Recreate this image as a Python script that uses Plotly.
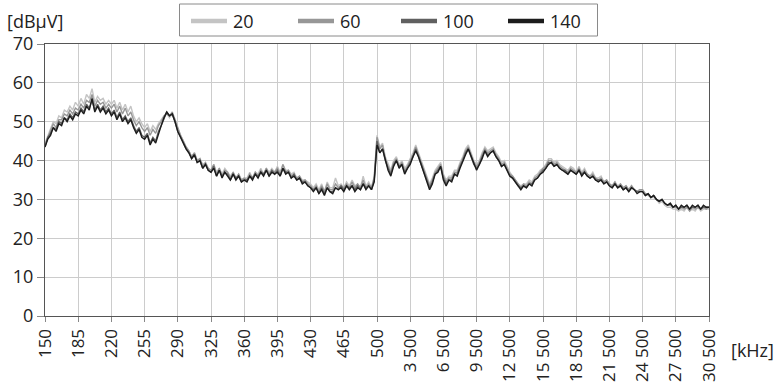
import numpy as np
import plotly.graph_objects as go

# tick labels of the (piecewise) frequency axis, in kHz
tick_labels = ["150", "185", "220", "255", "290", "325", "360", "395", "430", "465", "500",
               "3 500", "6 500", "9 500", "12 500", "15 500", "18 500", "21 500", "24 500",
               "27 500", "30 500"]

series_names = ["20", "60", "100", "140"]
series_colors = ["#c4c4c4", "#979797", "#606060", "#1c1c1c"]

# levels in dBuV, 12 samples per tick interval
s20 = [44.5, 46.5, 48, 50, 49.5, 51.5, 51, 53, 52.5, 54, 53, 55,
       54, 56, 54.5, 57, 56, 58.5, 55, 56.5, 55.5, 56, 54.5, 55.5,
       54.5, 55.5, 53.5, 55, 53, 54.5, 52.5, 54, 51.5, 50, 51, 49.5,
       48.5, 49.5, 47.5, 49, 48, 49.5, 50.5, 51.5, 52, 51, 52, 50.5,
       48, 46.5, 45, 43.5, 42.5, 41, 42, 40, 40.5, 39, 39.5, 38,
       37.5, 39, 37, 38, 36.5, 38, 37, 36, 37, 35.5, 36.5, 35,
       35.5, 35.5, 37, 35.5, 37, 36.5, 38, 36.5, 38, 37, 38, 37,
       38.5, 37, 39, 37.5, 37.5, 36.5, 37, 35.5, 36, 35, 35, 34.5,
       34, 33, 34, 32.5, 34, 32, 34.5, 33, 33, 35.5, 33.5, 34,
       33, 34.5, 33.5, 35, 33.5, 34, 33, 36, 33.5, 34.5, 33, 36,
       46.5, 43.5, 44.5, 41, 39, 37.5, 40, 41, 39, 40, 38, 39,
       40.5, 42, 44, 42, 40, 38, 36.5, 34, 35.5, 37.5, 38.5, 39.5,
       36.5, 35, 36, 36, 37.5, 37.5, 39.5, 41, 43, 44, 42, 40,
       39, 40, 42, 43.5, 42.5, 43, 43.5, 42, 41, 39.5, 40, 38.5,
       37, 36, 35, 34, 33.5, 34, 34, 35, 34.5, 36, 36.5, 37.5,
       38, 39, 40.5, 40.5, 39.5, 40, 39, 38.5, 38, 37.5, 38.5, 38,
       37, 38.5, 37, 38, 36.5, 36, 37, 35.5, 35.5, 36, 34.5, 35,
       34, 33.5, 34.5, 33.5, 34, 33, 33.5, 32.5, 33.5, 32.5, 32, 32.5,
       32, 31.5, 31, 30.5, 30.5, 30, 29, 29.5, 28.5, 28, 28, 27.5,
       27.5, 27, 27.5, 27, 28, 27, 27.5, 27, 28, 27, 27.5, 27.5, 27.5]

s60 = [44, 46, 47.5, 49.5, 48.5, 50.5, 50.5, 52, 51.5, 53, 52, 53.5,
       53, 54.5, 53.5, 55.5, 55, 57, 54, 55.5, 54.5, 55, 53.5, 54.5,
       53.5, 54.5, 52.5, 54, 52, 53.5, 51.5, 52.5, 50.5, 49, 50, 48.5,
       47.5, 48.5, 46.5, 48, 47, 49, 50, 51.5, 52, 51.5, 52.5, 50.5,
       48, 46.5, 45, 43.5, 42.5, 41, 42, 40, 40.5, 38.5, 39.5, 38,
       37.5, 39, 36.5, 38, 36, 37.5, 37, 35.5, 37, 35.5, 36.5, 35,
       35.5, 35, 36.5, 35.5, 37, 36, 37.5, 36.5, 38, 36.5, 37.5, 37,
       38, 36.5, 39, 37, 37.5, 36, 36.5, 35.5, 36, 34.5, 35, 34,
       33.5, 32.5, 33.5, 32, 33.5, 32, 34, 32.5, 32.5, 34, 33, 33.5,
       33, 34, 33, 34.5, 33, 34, 33, 35, 33, 34, 33, 35.5,
       46, 43, 44, 40.5, 38.5, 37, 39.5, 40.5, 38.5, 39.5, 37.5, 38.5,
       40, 41.5, 43.5, 41.5, 40, 37.5, 36, 33.5, 35, 37, 38, 39,
       36, 34.5, 35.5, 35.5, 37, 37, 39, 40.5, 42.5, 43.5, 41.5, 39.5,
       38.5, 39.5, 41.5, 43, 42, 42.5, 43, 41.5, 40.5, 39, 39.5, 38,
       36.5, 36, 35, 34, 33, 34, 33.5, 34.5, 34, 35.5, 36, 37,
       38, 38.5, 40, 40, 39, 39.5, 38.5, 38, 37.5, 37, 38, 37.5,
       37, 38, 36.5, 37.5, 36.5, 36, 36.5, 35.5, 35, 35.5, 34.5, 35,
       34, 33.5, 34.5, 33, 34, 33, 33.5, 32.5, 33.5, 32.5, 32, 32.5,
       32.5, 31.5, 31.5, 30.5, 31, 30, 29.5, 30, 29, 28.5, 28.5, 28,
       28, 27.5, 28, 27.5, 28, 27, 28, 27.5, 28, 27.5, 28, 27.5, 28]

s100 = [43.5, 46, 47, 48.5, 48, 50, 49.5, 51, 50.5, 52, 51, 52.5,
        52, 53.5, 52.5, 54.5, 53.5, 55.5, 53, 54.5, 53, 54, 52.5, 53.5,
        52, 53, 51, 52.5, 50.5, 51.5, 50, 51, 49, 47.5, 48.5, 46.5,
        46, 47, 44.5, 46, 45, 47.5, 49, 51, 52.5, 51.5, 52, 50,
        47.5, 46, 44.5, 43, 42, 40.5, 41.5, 39.5, 40, 38, 39, 37.5,
        37, 38.5, 36, 37.5, 36, 37, 36.5, 35, 36.5, 35.5, 36, 34.5,
        35, 35, 36, 35.5, 36.5, 36, 37, 36.5, 37.5, 36, 37.5, 36.5,
        37.5, 36, 38, 37, 37, 35.5, 36.5, 35, 35.5, 34.5, 34.5, 33.5,
        33, 32.5, 33, 31.5, 33, 31.5, 33, 32, 32, 33, 32.5, 33.5,
        32.5, 33.5, 33, 33.5, 32.5, 33.5, 32.5, 34, 33, 33.5, 32.5, 35,
        45, 42, 43, 40, 38, 36.5, 39, 40, 38.5, 39, 37, 38,
        39.5, 41, 43, 41, 39.5, 37, 35.5, 33, 34.5, 36.5, 37.5, 38.5,
        35.5, 34, 35, 35, 36.5, 36.5, 38.5, 40, 42, 43, 41, 39,
        38, 39, 41, 42.5, 41.5, 42, 42.5, 41, 40, 38.5, 39, 37.5,
        36, 35.5, 34.5, 33.5, 33, 33.5, 33, 34, 34, 35, 35.5, 36.5,
        37.5, 38, 39.5, 39.5, 38.5, 39, 38, 37.5, 37.5, 36.5, 37.5, 37,
        36.5, 37.5, 36.5, 37, 36, 35.5, 36, 35, 35, 35, 34, 34.5,
        33.5, 33, 34, 33, 33.5, 32.5, 33, 32, 33, 32.5, 32, 32,
        32, 31, 31.5, 30.5, 31, 30, 29.5, 30, 29, 28.5, 29, 28,
        28.5, 27.5, 28, 28, 28.5, 27.5, 28, 28, 28.5, 27.5, 28, 28, 28]

s140 = [43.5, 45.5, 46.5, 48.5, 47.5, 49.5, 49, 51, 50, 51.5, 50.5, 52,
        51.5, 53, 52, 54, 53, 56, 52.5, 54, 52.5, 53.5, 52, 53,
        51.5, 52.5, 50.5, 52, 50, 51, 49.5, 50.5, 48.5, 47, 48, 46,
        45.5, 46.5, 44, 45.5, 44.5, 47, 49, 51, 52.5, 51.5, 52, 50,
        47.5, 46, 44.5, 43, 42, 40.5, 41.5, 39.5, 40, 38, 39, 37.5,
        37, 38, 36, 37.5, 35.5, 37, 36, 35, 36.5, 35, 36, 34.5,
        35, 34.5, 36, 35, 36.5, 35.5, 37, 36, 37.5, 36, 37, 36.5,
        37, 36, 38, 36.5, 37, 35.5, 36, 35, 35.5, 34, 34.5, 33.5,
        33, 32, 33, 31.5, 32.5, 31, 33, 32, 31.5, 33, 32.5, 33,
        32, 33.5, 32.5, 33.5, 32, 33, 32.5, 34, 32.5, 33.5, 32.5, 34.5,
        44, 42, 43, 40, 37.5, 36, 38.5, 40, 38, 39, 36.5, 38,
        39, 41, 42.5, 41, 39, 37, 35, 32.5, 34, 36.5, 37, 38.5,
        35, 33.5, 35, 34.5, 36.5, 36, 38, 40, 41.5, 43, 41, 39,
        37.5, 39, 40.5, 42.5, 41, 42, 42.5, 41, 40, 38.5, 39, 37.5,
        36, 35.5, 34.5, 33.5, 32.5, 33.5, 33, 34, 33.5, 35, 35.5, 36.5,
        37, 38, 39, 39.5, 38.5, 39, 38, 37.5, 37, 36.5, 37.5, 37,
        36.5, 37.5, 36, 37, 36, 35.5, 36, 35, 34.5, 35, 34, 34.5,
        33.5, 33, 34, 33, 33.5, 32.5, 33, 32, 33, 32.5, 31.5, 32,
        32, 31, 31.5, 30.5, 31, 30, 29.5, 30, 29, 28.5, 29, 28,
        28.5, 27.5, 28.5, 28, 28.5, 27.5, 28.5, 28, 28.5, 27.5, 28.5, 28, 28]

series_values = [s20, s60, s100, s140]

n_ticks = len(tick_labels)
samples_per_div = 12
x_pos = np.arange(len(s140)) / samples_per_div  # position along the tick index axis

W, H = 779, 388
ML, MR, MT, MB = 45, 70, 44, 72
PW, PH = W - ML - MR, H - MT - MB


def px(p):
    return (p - ML) / PW


def py(p):
    return (H - MB - p) / PH


fig = go.Figure()
for name, col, vals in zip(series_names, series_colors, series_values):
    fig.add_trace(go.Scatter(x=x_pos, y=vals, mode="lines", name=name,
                             line=dict(color=col, width=1.4), showlegend=False,
                             hoverinfo="skip"))

font_fam = "Open Sans, Noto Sans, sans-serif"
fs = 17

# manual legend (box, line samples, labels)
shapes = [dict(type="rect", xref="paper", yref="paper", x0=px(179.5), x1=px(597.5),
               y0=py(36), y1=py(4), line=dict(color="#8a8a8a", width=1),
               fillcolor="white", layer="above")]
annotations = []
leg_x = [191, 298, 401, 508]
for name, col, lx in zip(series_names, series_colors, leg_x):
    shapes.append(dict(type="line", xref="paper", yref="paper", x0=px(lx), x1=px(lx + 36),
                       y0=py(21), y1=py(21), line=dict(color=col, width=4.5)))
    annotations.append(dict(text=name, xref="paper", yref="paper", x=px(lx + 40), y=py(21),
                            xanchor="left", yanchor="middle", showarrow=False,
                            font=dict(size=fs + 1, family=font_fam, color="#222")))
annotations.append(dict(text="[dBμV]", xref="paper", yref="paper", x=px(5), y=py(21),
                        xanchor="left", yanchor="middle", showarrow=False,
                        font=dict(size=fs + 1, family=font_fam, color="#222")))
annotations.append(dict(text="[kHz]", xref="paper", yref="paper", x=px(729), y=py(350),
                        xanchor="left", yanchor="middle", showarrow=False,
                        font=dict(size=fs + 1, family=font_fam, color="#222")))

fig.update_layout(
    width=W, height=H,
    margin=dict(l=ML, r=MR, t=MT, b=MB, autoexpand=False),
    paper_bgcolor="white", plot_bgcolor="white",
    font=dict(family=font_fam, size=fs, color="#222"),
    showlegend=False,
    shapes=shapes, annotations=annotations,
)
fig.update_xaxes(range=[0, n_ticks - 1], tickmode="array",
                 tickvals=list(range(n_ticks)), ticktext=tick_labels,
                 tickangle=-90, showgrid=True, gridcolor="#cccccc", gridwidth=1,
                 showline=True, linecolor="#555", linewidth=1.2, mirror=True,
                 ticks="outside", ticklen=5, tickcolor="#888", zeroline=False,
                 tickfont=dict(size=fs), automargin=False)
fig.update_yaxes(range=[0, 70], tickmode="array", tickvals=list(range(0, 71, 10)),
                 showgrid=True, gridcolor="#cccccc", gridwidth=1,
                 showline=True, linecolor="#555", linewidth=1.2, mirror=True,
                 ticks="outside", ticklen=7, tickcolor="#888", zeroline=False,
                 tickfont=dict(size=fs + 1), automargin=False)
fig.write_html("out.html")
